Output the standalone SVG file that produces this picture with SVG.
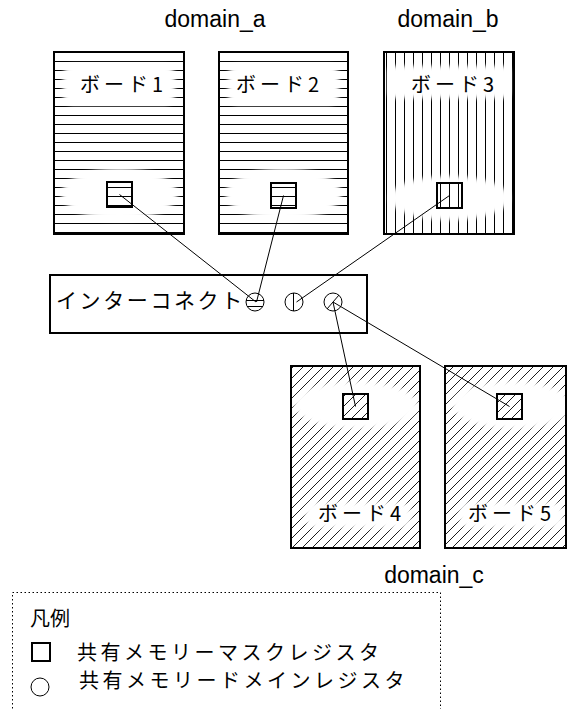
<svg xmlns="http://www.w3.org/2000/svg" width="567" height="709" viewBox="0 0 567 709">
<style>
.frame{fill:none;stroke:#000;stroke-width:2}
.reg{stroke:#000;stroke-width:2}
.wire{stroke:#000;stroke-width:1;fill:none}
.jp{font-family:"Noto Sans CJK JP",sans-serif;fill:#000}
.lat{font-family:"Liberation Sans",Arial,sans-serif;fill:#000}
.soft{fill:#fff;filter:url(#blur)}
</style>
<defs>
<filter id="blur" x="-30%" y="-30%" width="160%" height="160%"><feGaussianBlur stdDeviation="2"/></filter>
<pattern id="hz" patternUnits="userSpaceOnUse" x="0" y="57" width="10" height="9"><rect width="10" height="9" fill="#fff"/><line x1="0" y1="4.5" x2="10" y2="4.5" stroke="#000" stroke-width="1"/></pattern>
<pattern id="vt" patternUnits="userSpaceOnUse" x="391" y="0" width="9" height="10"><rect width="9" height="10" fill="#fff"/><line x1="4.5" y1="0" x2="4.5" y2="10" stroke="#000" stroke-width="1"/></pattern>
<pattern id="dg" patternUnits="userSpaceOnUse" x="0" y="0" width="10" height="10"><rect width="10" height="10" fill="#fff"/><path d="M0,10 L10,0 M-1,1 L1,-1 M9,11 L11,9" stroke="#000" stroke-width="0.9"/></pattern>
</defs>

<g id="label_domain_a"><text class="lat" x="215" y="27" font-size="23" text-anchor="middle">domain_a</text></g>
<g id="label_domain_b"><text class="lat" x="448" y="27" font-size="23" text-anchor="middle">domain_b</text></g>
<g id="label_domain_c"><text class="lat" x="434" y="583" font-size="23" text-anchor="middle">domain_c</text></g>

<g id="board1">
<rect x="54" y="52" width="130" height="182" fill="url(#hz)"/>
<rect class="soft" x="63" y="65" width="112" height="40" rx="10"/>
<ellipse class="soft" cx="119.5" cy="194" rx="58" ry="26"/>
<rect class="frame" x="54" y="52" width="130" height="182"/>
<text class="jp" x="80" y="92" font-size="20" letter-spacing="4">ボード1</text>
<rect class="reg" x="107" y="182" width="25" height="25" fill="url(#hz)"/>
</g>

<g id="board2">
<rect x="219" y="52" width="129" height="182" fill="url(#hz)"/>
<rect class="soft" x="228" y="65" width="111" height="40" rx="10"/>
<ellipse class="soft" cx="283.5" cy="194" rx="58" ry="26"/>
<rect class="frame" x="219" y="52" width="129" height="182"/>
<text class="jp" x="236" y="92" font-size="20" letter-spacing="4">ボード2</text>
<rect class="reg" x="271" y="183" width="25" height="25" fill="url(#hz)"/>
</g>

<g id="board3">
<rect x="384" y="52" width="130" height="182" fill="url(#vt)"/>
<rect class="soft" x="388" y="66" width="122" height="32" rx="6"/>
<ellipse class="soft" cx="449.5" cy="198" rx="60" ry="22"/>
<rect class="frame" x="384" y="52" width="130" height="182"/>
<text class="jp" x="411" y="92" font-size="20" letter-spacing="4">ボード3</text>
<rect class="reg" x="437" y="183" width="25" height="25" fill="url(#vt)"/>
</g>

<g id="interconnect">
<rect class="frame" x="50" y="275" width="317" height="58" fill="#fff"/>
<text class="jp" x="56" y="308" font-size="21" letter-spacing="2.6">インターコネクト</text>
<circle cx="255" cy="302" r="9" fill="#fff" stroke="#000" stroke-width="1"/>
<line x1="246" y1="300.5" x2="264" y2="300.5" stroke="#000" stroke-width="1"/>
<line x1="247" y1="306.5" x2="263" y2="306.5" stroke="#000" stroke-width="1"/>
<circle cx="294" cy="302" r="9" fill="#fff" stroke="#000" stroke-width="1"/>
<line x1="293.5" y1="293" x2="293.5" y2="311" stroke="#000" stroke-width="1"/>
<circle cx="333" cy="302" r="9" fill="#fff" stroke="#000" stroke-width="1"/>
<line x1="327" y1="309" x2="339" y2="295" stroke="#000" stroke-width="1"/>
</g>

<g id="board4">
<rect x="291" y="366" width="129" height="182" fill="url(#dg)"/>
<ellipse class="soft" cx="356" cy="405" rx="62" ry="24"/>
<rect class="soft" x="305" y="502" width="106" height="26" rx="10"/>
<rect class="frame" x="291" y="366" width="129" height="182"/>
<text class="jp" x="318" y="521" font-size="20" letter-spacing="4">ボード4</text>
<rect class="reg" x="343" y="394" width="25" height="25" fill="url(#dg)"/>
</g>

<g id="board5">
<rect x="445" y="366" width="121" height="182" fill="url(#dg)"/>
<ellipse class="soft" cx="512" cy="405" rx="60" ry="24"/>
<rect class="soft" x="459" y="502" width="104" height="26" rx="10"/>
<rect class="frame" x="445" y="366" width="121" height="182"/>
<text class="jp" x="468" y="521" font-size="20" letter-spacing="4">ボード5</text>
<rect class="reg" x="497" y="394" width="25" height="25" fill="url(#dg)"/>
</g>

<g id="connectors">
<line class="wire" x1="119.5" y1="194.5" x2="256" y2="302"/>
<line class="wire" x1="283.5" y1="195.5" x2="256.5" y2="302"/>
<line class="wire" x1="449.5" y1="195.5" x2="296.5" y2="302"/>
<line class="wire" x1="333" y1="302" x2="355.5" y2="406.5"/>
<line class="wire" x1="333" y1="302" x2="509.5" y2="406.5"/>
</g>

<g id="legend">
<rect x="12.5" y="592.5" width="428" height="130" fill="none" stroke="#000" stroke-width="1" stroke-dasharray="1.5,2.5"/>
<text class="jp" x="30" y="626" font-size="20">凡例</text>
<rect x="32" y="643" width="18" height="18" fill="none" stroke="#000" stroke-width="2"/>
<text class="jp" x="77" y="660" font-size="20" letter-spacing="3.5">共有メモリーマスクレジスタ</text>
<circle cx="40" cy="687" r="9" fill="none" stroke="#000" stroke-width="1"/>
<text class="jp" x="79" y="688" font-size="20" letter-spacing="3.5">共有メモリードメインレジスタ</text>
</g>
</svg>
